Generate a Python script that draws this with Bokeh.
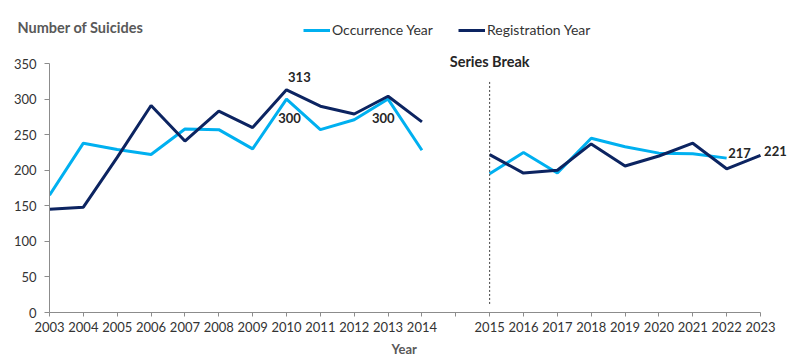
from bokeh.plotting import figure
from bokeh.models import (Range1d, FixedTicker, Label, Legend, LegendItem, Title)
from bokeh.embed import file_html
from bokeh.resources import INLINE

# ---- data ----
years_p1 = ["2003", "2004", "2005", "2006", "2007", "2008", "2009", "2010",
            "2011", "2012", "2013", "2014"]
years_p2 = ["2015", "2016", "2017", "2018", "2019", "2020", "2021", "2022", "2023"]
tick_labels = years_p1 + [""] + years_p2

occ_p1 = [165, 238, 229, 222, 258, 257, 230, 300, 257, 271, 300, 228]
reg_p1 = [145, 148, 218, 291, 241, 283, 260, 313, 290, 279, 304, 268]
occ_p2 = [195, 225, 196, 245, 233, 224, 223, 217]
reg_p2 = [222, 196, 200, 237, 206, 220, 238, 202, 221]

LIGHT = "#00B0F0"
DARK = "#0C2461"
FONT = "Lato"

x_p1 = list(range(len(years_p1)))
start2 = len(years_p1) + 1
x_occ2 = [start2 + i for i in range(len(occ_p2))]
x_reg2 = [start2 + i for i in range(len(reg_p2))]

# layout: axis area spans x 49..760, y 63..312 in the picture
W, H = 800, 362
AX_L, AX_R, AX_T, AX_B = 49, 760, 63, 312
FRAME_T = 20
n_int = len(tick_labels) - 1
px_x = (AX_R - AX_L) / n_int
px_y = (AX_B - AX_T) / 350
x_max = (W - AX_L) / px_x
y_max = (AX_B - FRAME_T) / px_y

p = figure(width=W, height=H, output_backend="svg", toolbar_location=None,
           x_range=Range1d(0, x_max), y_range=Range1d(0, y_max),
           min_border_left=AX_L, min_border_right=0, min_border_top=FRAME_T,
           min_border_bottom=H - AX_B)
p.outline_line_color = None
p.xgrid.visible = False
p.ygrid.visible = False

p.title.text = "Number of Suicides"
p.title.align = "left"
p.title.offset = -32
p.title.standoff = -30
p.title.text_font = FONT
p.title.text_font_size = "14.5px"
p.title.text_font_style = "bold"
p.title.text_color = "#595959"

r_occ = p.line(x_p1, occ_p1, line_color=LIGHT, line_width=3)
p.line(x_occ2, occ_p2, line_color=LIGHT, line_width=3)
r_reg = p.line(x_p1, reg_p1, line_color=DARK, line_width=3)
p.line(x_reg2, reg_p2, line_color=DARK, line_width=3)

# series break line
p.segment(x0=[start2], y0=[12], x1=[start2], y1=[325], line_color="#404040",
          line_width=1, line_dash="2 2")

# axes
for ax in (p.xaxis[0], p.yaxis[0]):
    ax.axis_line_color = "#8C8C8C"
    ax.major_tick_line_color = "#8C8C8C"
    ax.minor_tick_line_color = None
    ax.major_tick_in = 0
    ax.major_label_text_font = FONT
    ax.major_label_text_font_size = "13px"
    ax.major_label_text_color = "#333333"

p.xaxis.bounds = (0, n_int)
p.xaxis.ticker = FixedTicker(ticks=list(range(len(tick_labels))))
p.xaxis.major_label_overrides = {i: t for i, t in enumerate(tick_labels)}
p.xaxis.major_tick_out = 4
p.xaxis.major_label_standoff = 5

p.add_layout(Title(text="Year", align="left", offset=342, standoff=9,
                   text_font=FONT, text_font_size="13px", text_font_style="bold",
                   text_color="#595959"), "below")

p.yaxis.bounds = (0, 350)
p.yaxis.ticker = FixedTicker(ticks=list(range(0, 351, 50)))
p.yaxis.major_tick_out = 5
p.yaxis.major_label_standoff = 8

# texts
def lab(x, y, text, size="13px", color="#262626", align="center"):
    p.add_layout(Label(x=x, y=y, text=text, text_font=FONT, text_font_size=size,
                       text_font_style="bold", text_color=color,
                       text_align=align, text_baseline="middle"))

lab(start2, 353.5, "Series Break", size="14.5px")
lab(7.38, 313 + 18, "313")
lab(7.09, 300 - 27, "300")
lab(9.86, 300 - 27, "300")
lab(20.38, 217 + 7, "217")
lab(21.44, 221 + 6, "221")

# legends (positions in px from the frame's bottom-left)
for rend, name, xloc in ((r_occ, "Occurrence Year", 254), (r_reg, "Registration Year", 409)):
    lg = Legend(items=[LegendItem(label=name, renderers=[rend])],
                location=(xloc, AX_B - 30 - 8), orientation="horizontal",
                glyph_width=27, glyph_height=16, label_height=16,
                label_standoff=2, padding=0, margin=0, spacing=0,
                border_line_color=None, background_fill_alpha=0,
                label_text_font=FONT, label_text_font_size="14px",
                label_text_color="#333333")
    p.add_layout(lg)

open("out.html", "w").write(file_html(p, INLINE))
